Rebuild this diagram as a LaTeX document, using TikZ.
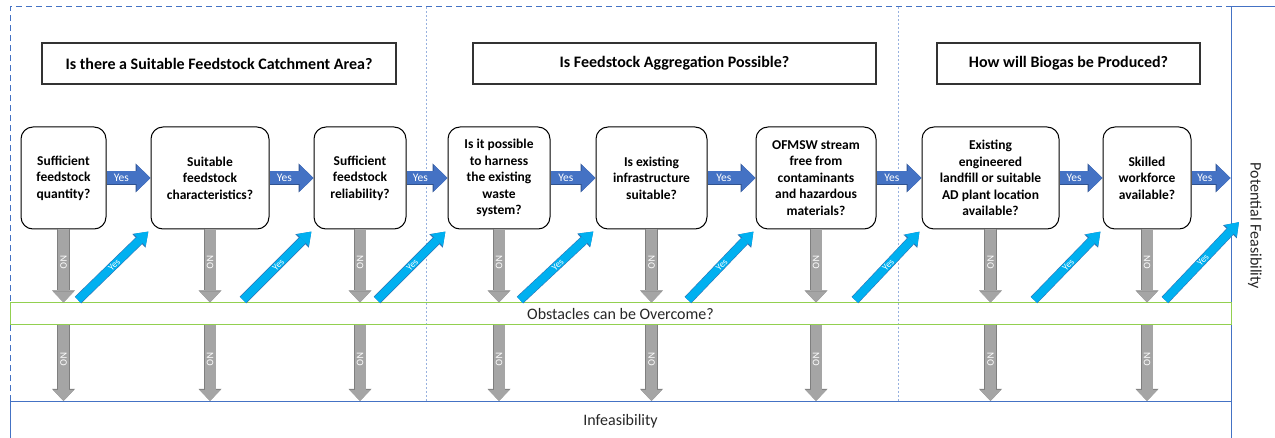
\documentclass[tikz,border=0pt]{standalone}
\usepackage{fontspec}
\setmainfont{Carlito}
\usetikzlibrary{arrows.meta,calc}
\definecolor{yesblue}{HTML}{4472C4}
\definecolor{yesedge}{HTML}{2F528F}
\definecolor{yescyan}{HTML}{00B0F0}
\definecolor{cyanedge}{HTML}{2E75B6}
\definecolor{nogray}{HTML}{A5A5A5}
\definecolor{noedge}{HTML}{7F7F7F}
\definecolor{frameblue}{HTML}{4472C4}
\definecolor{obsgreen}{HTML}{92D050}
\tikzset{
  question/.style={draw, line width=1pt, rounded corners=12pt, align=center, minimum height=102pt,
    inner sep=0pt, font=\fontsize{13.5}{16.6}\selectfont\bfseries},
  header/.style={draw=black!80, line width=1.2pt, minimum height=41pt, font=\fontsize{16}{19}\selectfont\bfseries},
  yesright/.style={preaction={draw=yesedge, line width=14.2pt, -{Triangle[length=15pt,width=29pt,line width=0pt]}},
    yesblue, line width=13pt, -{Triangle[length=14pt,width=27pt,line width=0pt]}},
  yesdiag/.style={preaction={draw=cyanedge, line width=9.2pt, -{Triangle[length=13.2pt,width=19pt,line width=0pt]}},
    yescyan, line width=8pt, shorten >=3pt, -{Triangle[length=12pt,width=17pt,line width=0pt]}},
  noarrow/.style={preaction={draw=noedge, line width=12.2pt, -{Triangle[length=12.2pt,width=23pt,line width=0pt]}},
    nogray, line width=11pt, -{Triangle[length=11pt,width=21pt,line width=0pt]}},
  yeslabel/.style={text=white, inner sep=0pt, font=\fontsize{11.5}{12}\selectfont},
  diaglabel/.style={text=white, inner sep=0pt, sloped, font=\fontsize{9.5}{10}\selectfont},
  nolabel/.style={text=white, inner sep=0pt, rotate=-90, font=\fontsize{10}{11}\selectfont},
  band/.style={line width=1pt, font=\fontsize{16}{19}\selectfont, text=black!85}
}
\begin{document}
\begin{tikzpicture}[x=1pt,y=-1pt]
	\useasboundingbox (0,0) rectangle (1275,438);
	\clip (0,0) rectangle (1275,438);
	% frame and sections
	\draw [frameblue, line width=1pt, dash pattern=on 6pt off 4pt] (10,401) -- (10,7) -- (1231,7);
	\draw [frameblue!55, line width=0.7pt, dash pattern=on 2pt off 2pt] (426,7) -- (426,401);
	\draw [frameblue!55, line width=0.7pt, dash pattern=on 2pt off 2pt] (898,7) -- (898,401);
	\node [band, draw=frameblue, rotate=-90, minimum width=438pt, minimum height=48pt] (pf) at (1255,226) {Potential Feasibility};
	\node [band, draw=frameblue, anchor=north, minimum width=1221pt, minimum height=40pt] (inf) at (620.5,401) {Infeasibility};
	\node [band, draw=obsgreen, minimum width=1221pt, minimum height=22pt, inner sep=0pt] (obs) at (620.5,314) {Obstacles can be Overcome?};
	% headers
	\node [header, minimum width=354pt] (h1) at (219,63.5) {Is there a Suitable Feedstock Catchment Area?};
	\node [header, minimum width=403pt] (h2) at (674.5,63.5) {Is Feedstock Aggregation Possible?};
	\node [header, minimum width=263pt] (h3) at (1068.5,63.5) {How will Biogas be Produced?};
	% questions
	\node [question, minimum width=85pt] (q1) at (63.5,178) {Sufficient\\feedstock\\quantity?};
	\node [question, minimum width=118pt] (q2) at (210,178) {Suitable\\feedstock\\characteristics?};
	\node [question, minimum width=92pt] (q3) at (360,178) {Sufficient\\feedstock\\reliability?};
	\node [question, minimum width=102pt] (q4) at (499,178) {Is it possible\\to harness\\the existing\\waste\\system?};
	\node [question, minimum width=111pt] (q5) at (651.5,178) {Is existing\\infrastructure\\suitable?};
	\node [question, minimum width=120pt] (q6) at (816,178) {OFMSW stream\\free from\\contaminants\\and hazardous\\materials?};
	\node [question, minimum width=137pt] (q7) at (990.5,178) {Existing\\engineered\\landfill or suitable\\AD plant location\\available?};
	\node [question, minimum width=88pt] (q8) at (1147,178) {Skilled\\workforce\\available?};
	% yes to the right
	\draw [yesright] (q1.east) -- node[yeslabel, pos=0.34] {Yes} (q2.west);
	\draw [yesright] (q2.east) -- node[yeslabel, pos=0.34] {Yes} (q3.west);
	\draw [yesright] (q3.east) -- node[yeslabel, pos=0.34] {Yes} (q4.west);
	\draw [yesright] (q4.east) -- node[yeslabel, pos=0.34] {Yes} (q5.west);
	\draw [yesright] (q5.east) -- node[yeslabel, pos=0.34] {Yes} (q6.west);
	\draw [yesright] (q6.east) -- node[yeslabel, pos=0.34] {Yes} (q7.west);
	\draw [yesright] (q7.east) -- node[yeslabel, pos=0.34] {Yes} (q8.west);
	\draw [yesright] (q8.east) -- node[yeslabel, pos=0.34] {Yes} (q8.east -| pf.south);
	% no, down to obstacles and on to infeasibility
	\draw [noarrow] (q1.south) -- node[nolabel, pos=0.45] {NO} (q1.south |- obs.north);
	\draw [noarrow] (q2.south) -- node[nolabel, pos=0.45] {NO} (q2.south |- obs.north);
	\draw [noarrow] (q3.south) -- node[nolabel, pos=0.45] {NO} (q3.south |- obs.north);
	\draw [noarrow] (q4.south) -- node[nolabel, pos=0.45] {NO} (q4.south |- obs.north);
	\draw [noarrow] (q5.south) -- node[nolabel, pos=0.45] {NO} (q5.south |- obs.north);
	\draw [noarrow] (q6.south) -- node[nolabel, pos=0.45] {NO} (q6.south |- obs.north);
	\draw [noarrow] (q7.south) -- node[nolabel, pos=0.45] {NO} (q7.south |- obs.north);
	\draw [noarrow] (q8.south) -- node[nolabel, pos=0.45] {NO} (q8.south |- obs.north);
	\draw [noarrow] (q1.south |- obs.south) -- node[nolabel, pos=0.45] {NO} (q1.south |- inf.north);
	\draw [noarrow] (q2.south |- obs.south) -- node[nolabel, pos=0.45] {NO} (q2.south |- inf.north);
	\draw [noarrow] (q3.south |- obs.south) -- node[nolabel, pos=0.45] {NO} (q3.south |- inf.north);
	\draw [noarrow] (q4.south |- obs.south) -- node[nolabel, pos=0.45] {NO} (q4.south |- inf.north);
	\draw [noarrow] (q5.south |- obs.south) -- node[nolabel, pos=0.45] {NO} (q5.south |- inf.north);
	\draw [noarrow] (q6.south |- obs.south) -- node[nolabel, pos=0.45] {NO} (q6.south |- inf.north);
	\draw [noarrow] (q7.south |- obs.south) -- node[nolabel, pos=0.45] {NO} (q7.south |- inf.north);
	\draw [noarrow] (q8.south |- obs.south) -- node[nolabel, pos=0.45] {NO} (q8.south |- inf.north);
	% yes once the obstacles are overcome
	\coordinate (o1) at (78,300);
	\coordinate (o2) at (243,300);
	\coordinate (o3) at (377,300);
	\coordinate (o4) at (520,300);
	\coordinate (o5) at (688,300);
	\coordinate (o6) at (855,300);
	\coordinate (o7) at (1034,300);
	\coordinate (o8) at (1165,300);
	\coordinate (pfin) at (1241,220);
	\draw [yesdiag] (o1) -- node[diaglabel] {Yes} (q2.south west);
	\draw [yesdiag] (o2) -- node[diaglabel] {Yes} (q3.south west);
	\draw [yesdiag] (o3) -- node[diaglabel] {Yes} (q4.south west);
	\draw [yesdiag] (o4) -- node[diaglabel] {Yes} (q5.south west);
	\draw [yesdiag] (o5) -- node[diaglabel] {Yes} (q6.south west);
	\draw [yesdiag] (o6) -- node[diaglabel] {Yes} (q7.south west);
	\draw [yesdiag] (o7) -- node[diaglabel] {Yes} (q8.south west);
	\draw [yesdiag] (o8) -- node[diaglabel] {Yes} (pfin);
\end{tikzpicture}
\end{document}
